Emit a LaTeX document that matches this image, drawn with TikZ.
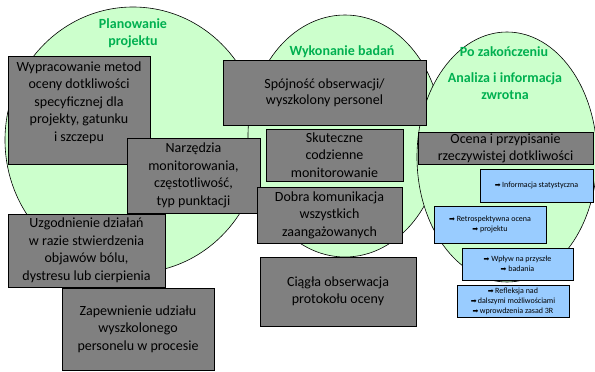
\documentclass[tikz,border=0pt]{standalone}
\usepackage{fontspec}
\setmainfont{Carlito}
\newfontfamily\arrowfont{DejaVu Sans}
\newcommand{\arr}{{\arrowfont\fontsize{7}{10}\selectfont\char"27A1}}
\definecolor{bubblegreen}{HTML}{CCFFCC}
\definecolor{titlegreen}{HTML}{00B050}
\definecolor{boxgray}{HTML}{808080}
\definecolor{boxblue}{HTML}{99CCFF}

\begin{document}
\begin{tikzpicture}[x=1pt,y=-1pt,
  bubble/.style={draw=black,fill=bubblegreen,line width=0.6pt},
  phase/.style={text=titlegreen,font=\bfseries\fontsize{14}{17.5}\selectfont,align=center,inner sep=0pt},
  graybox/.style={draw=black,fill=boxgray,line width=0.8pt,inner sep=0pt,align=center,font=\fontsize{14}{17.5}\selectfont},
  bluebox/.style={draw=black,fill=boxblue,line width=0.8pt,inner sep=0pt,align=center,font=\fontsize{8}{10}\selectfont}]
\useasboundingbox (0,0) rectangle (595,372);
\draw [bubble] (133,140) ellipse [x radius=128, y radius=133];
\draw [bubble] (345,136) ellipse [x radius=97, y radius=121];
\draw [bubble] (507,157) ellipse [x radius=90, y radius=125];
\node [phase] (planowanie) at (133,33.5) {Planowanie\\projektu};
\node [phase] (wykonanie) at (342,52) {Wykonanie badań};
\node [phase] (po) at (504,52) {Po zakończeniu};
\node [phase] (analiza) at (505,86) {Analiza i informacja\\zwrotna};
\node [graybox,minimum width=142pt,minimum height=108pt] (metody) at (79,110) {Wypracowanie metod\\oceny dotkliwości\\specyficznej dla\\projekty, gatunku\\i szczepu\\\mbox{}};
\node [graybox,minimum width=133pt,minimum height=75pt] (narzedzia) at (193.5,175.5) {Narzędzia\\monitorowania,\\częstotliwość,\\typ punktacji};
\node [graybox,minimum width=157pt,minimum height=73pt] (uzgodnienie) at (86.5,250.5) {Uzgodnienie działań\\w razie stwierdzenia\\objawów bólu,\\dystresu lub cierpienia};
\node [graybox,minimum width=152pt,minimum height=82pt] (personel) at (138,329) {Zapewnienie udziału\\wyszkolonego\\personelu w procesie};
\node [graybox,minimum width=203pt,minimum height=65pt,font=\fontsize{14}{16}\selectfont] (spojnosc) at (324.5,92.5) {Spójność obserwacji/\\wyszkolony personel};
\node [graybox,minimum width=137pt,minimum height=52pt] (skuteczne) at (334.5,155) {Skuteczne\\codzienne\\monitorowanie};
\node [graybox,minimum width=145pt,minimum height=56pt] (komunikacja) at (329.5,215) {Dobra komunikacja\\wszystkich\\zaangażowanych};
\node [graybox,minimum width=156pt,minimum height=69pt] (ciagla) at (338,291.5) {Ciągła obserwacja\\protokołu oceny};
\node [graybox,minimum width=175pt,minimum height=32pt,font=\fontsize{14}{17}\selectfont] (ocena) at (505.5,148) {Ocena i przypisanie\\rzeczywistej dotkliwości};
\node [bluebox,minimum width=113pt,minimum height=33pt] (statystyka) at (536.5,185.5) {\arr\,Informacja statystyczna};
\node [bluebox,minimum width=112pt,minimum height=37pt] (retro) at (490,224.5) {\arr\ Retrospektywna ocena\\\arr\ projektu};
\node [bluebox,minimum width=111pt,minimum height=32pt] (wplyw) at (517.5,264) {\arr\ Wpływ na przyszłe\\\arr\ badania};
\node [bluebox,minimum width=112pt,minimum height=32pt] (refleksja) at (513,301) {\arr\,Refleksja nad\\\arr\,dalszymi możliwościami\\\arr\,wprowdzenia zasad 3R};
\end{tikzpicture}
\end{document}
